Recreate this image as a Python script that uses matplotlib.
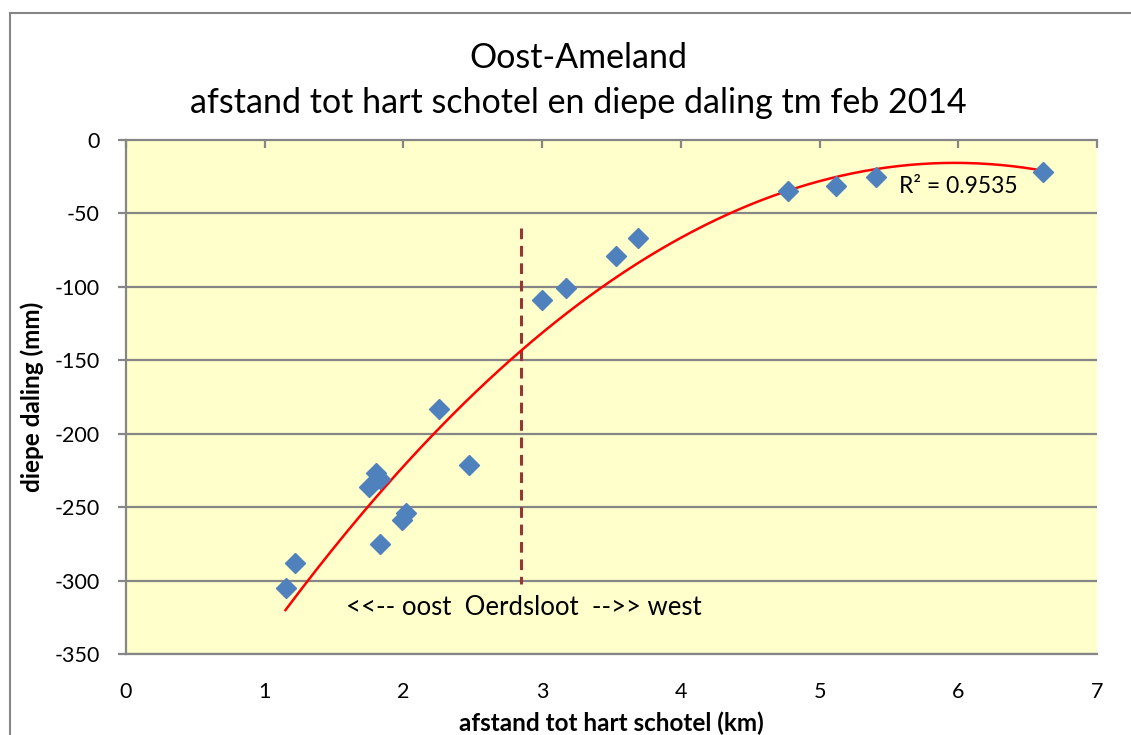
import numpy as np
import matplotlib
matplotlib.use("Agg")
import matplotlib.pyplot as plt
from matplotlib.lines import Line2D

plt.rcParams['font.family'] = ['Lato', 'DejaVu Sans']

# Data
afstand_km = [1.15, 1.22, 1.75, 1.80, 1.83, 1.83, 1.99, 2.02, 2.26, 2.47,
              3.00, 3.17, 3.53, 3.69, 4.77, 5.12, 5.41, 6.61]
daling_mm = [-305, -288, -236, -227, -231, -275, -259, -254, -183, -221,
             -109, -101, -79, -67, -35, -31, -25, -22]
oerdsloot_x = 2.85
oerdsloot_y = [-60, -302]
r2_label = "R² = 0.9535"
title_lines = ["Oost-Ameland", "afstand tot hart schotel en diepe daling tm feb 2014"]
xlabel = "afstand tot hart schotel (km)"
ylabel = "diepe daling (mm)"
xticks = [0, 1, 2, 3, 4, 5, 6, 7]
yticks = [0, -50, -100, -150, -200, -250, -300, -350]

fig = plt.figure(figsize=(11.31, 7.35), dpi=100)
fig.patch.set_facecolor('white')
ax = fig.add_axes([126/1131, 1-654/735, (1097-126)/1131, (654-140)/735])
ax.set_facecolor('#FFFFCC')

grid_c = '#868686'
for yv in yticks[1:]:
    ax.axhline(yv, color=grid_c, lw=1.6, zorder=1)

# polynomial (order 2) trendline
coef = np.polyfit(afstand_km, daling_mm, 2)
xs = np.linspace(min(afstand_km), max(afstand_km), 200)
ax.plot(xs, np.polyval(coef, xs), color='#FF0000', lw=1.8, zorder=3)

ax.plot(afstand_km, daling_mm, linestyle='none', marker='D', ms=10,
        color='#4F81BD', mec='#4F81BD', zorder=4)

ax.plot([oerdsloot_x, oerdsloot_x], oerdsloot_y, color='#953735', lw=2.2,
        dashes=(3.5, 2.2), zorder=2)

ax.text(2.87, -318.5, "<<-- oost  Oerdsloot  -->> west", ha='center', va='center',
        fontsize=18.5, color='black', zorder=5)
ax.text(6.0, -32, r2_label, ha='center', va='center', fontsize=16.5, color='black', zorder=5)

ax.set_xlim(0, 7)
ax.set_ylim(-350, 0)
ax.set_xticks(xticks)
ax.set_yticks(yticks)
ax.set_xticklabels([str(v) for v in xticks])
ax.set_yticklabels([str(v) for v in yticks])

ax.spines['right'].set_visible(False)
for s in ['top', 'left', 'bottom']:
    ax.spines[s].set_color(grid_c)
    ax.spines[s].set_linewidth(1.6)

ax.tick_params(axis='x', top=True, bottom=False, labeltop=False, labelbottom=True,
               direction='in', length=6, width=1.6, color=grid_c, pad=20,
               labelsize=15.5)
ax.tick_params(axis='y', left=True, right=False, direction='out', length=6,
               width=1.6, color=grid_c, pad=13, labelsize=15.5)

ax.set_xlabel(xlabel, fontsize=17.5, fontweight='bold')
ax.set_ylabel(ylabel, fontsize=17.5, fontweight='bold')
ax.xaxis.set_label_coords(0.5, -0.111)
ax.yaxis.set_label_coords(-0.0845, 0.5)

fig.text(578/1131, 1-58/735, title_lines[0], ha='center', va='center', fontsize=24.5)
fig.text(578/1131, 1-103/735, title_lines[1], ha='center', va='center', fontsize=24.5)

# chart-area border (left and top edges visible)
bx = 10/1131
by = 1 - 13/735
fig.add_artist(Line2D([bx, bx], [0, by], transform=fig.transFigure, color=grid_c, lw=1.5))
fig.add_artist(Line2D([bx, 1], [by, by], transform=fig.transFigure, color=grid_c, lw=1.5))

fig.savefig('out.png', dpi=100)
